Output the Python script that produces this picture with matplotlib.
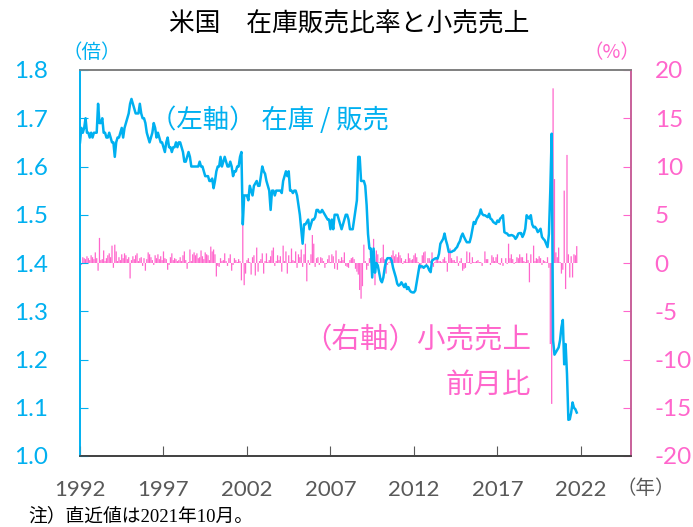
import numpy as np
import matplotlib
matplotlib.use('Agg')
import matplotlib.pyplot as plt

plt.rcParams['axes.unicode_minus'] = False

# 在庫/販売 (倍), monthly, Jan 1992 - Oct 2021
ratio = [
    1.65, 1.68, 1.67, 1.68, 1.70, 1.67, 1.67, 1.66, 1.67, 1.66, 1.67, 1.67,  # 1992
    1.67, 1.73, 1.69, 1.69, 1.70, 1.67, 1.67, 1.66, 1.66, 1.67, 1.66, 1.65,  # 1993
    1.65, 1.62, 1.65, 1.66, 1.66, 1.67, 1.68, 1.66, 1.68, 1.69, 1.70, 1.71,  # 1994
    1.73, 1.74, 1.73, 1.72, 1.71, 1.71, 1.71, 1.73, 1.71, 1.70, 1.70, 1.69,  # 1995
    1.67, 1.66, 1.65, 1.66, 1.67, 1.69, 1.68, 1.66, 1.67, 1.66, 1.65, 1.65,  # 1996
    1.64, 1.63, 1.65, 1.66, 1.64, 1.64, 1.63, 1.64, 1.64, 1.65, 1.64, 1.65,  # 1997
    1.65, 1.64, 1.63, 1.61, 1.61, 1.62, 1.63, 1.62, 1.60, 1.60, 1.60, 1.60,  # 1998
    1.60, 1.60, 1.61, 1.60, 1.60, 1.59, 1.58, 1.58, 1.58, 1.57, 1.57, 1.575,  # 1999
    1.555, 1.57, 1.59, 1.60, 1.60, 1.62, 1.60, 1.61, 1.62, 1.61, 1.60, 1.60,  # 2000
    1.61, 1.60, 1.58, 1.59, 1.59, 1.60, 1.60, 1.62, 1.63, 1.48, 1.54, 1.54,  # 2001
    1.54, 1.53, 1.56, 1.55, 1.54, 1.56, 1.565, 1.57, 1.56, 1.56, 1.58, 1.60,  # 2002
    1.59, 1.585, 1.57, 1.56, 1.55, 1.51, 1.55, 1.55, 1.54, 1.55, 1.55, 1.55,  # 2003
    1.55, 1.545, 1.57, 1.58, 1.59, 1.58, 1.59, 1.55, 1.55, 1.545, 1.55, 1.55,  # 2004
    1.54, 1.52, 1.50, 1.47, 1.44, 1.48, 1.48, 1.485, 1.49, 1.47, 1.48, 1.49,  # 2005
    1.49, 1.495, 1.51, 1.51, 1.505, 1.505, 1.51, 1.505, 1.50, 1.495, 1.49, 1.49,  # 2006
    1.47, 1.49, 1.47, 1.50, 1.50, 1.50, 1.49, 1.48, 1.47, 1.48, 1.49, 1.50,  # 2007
    1.50, 1.49, 1.47, 1.47, 1.47, 1.49, 1.51, 1.53, 1.62, 1.62, 1.57, 1.57,  # 2008
    1.57, 1.56, 1.52, 1.46, 1.43, 1.43, 1.37, 1.43, 1.38, 1.40, 1.395, 1.38,  # 2009
    1.365, 1.36, 1.37, 1.39, 1.405, 1.41, 1.41, 1.41, 1.405, 1.39, 1.38, 1.37,  # 2010
    1.357, 1.353, 1.355, 1.36, 1.355, 1.35, 1.357, 1.346, 1.35, 1.343, 1.34, 1.339,  # 2011
    1.339, 1.343, 1.36, 1.378, 1.395, 1.393, 1.393, 1.39, 1.393, 1.395, 1.392, 1.385,  # 2012
    1.381, 1.405, 1.407, 1.409, 1.41, 1.409, 1.419, 1.44, 1.445, 1.45, 1.461, 1.447,  # 2013
    1.437, 1.423, 1.423, 1.423, 1.425, 1.426, 1.43, 1.433, 1.44, 1.445, 1.455, 1.461,  # 2014
    1.454, 1.448, 1.443, 1.443, 1.443, 1.454, 1.47, 1.485, 1.481, 1.49, 1.495, 1.50,  # 2015
    1.511, 1.502, 1.499, 1.499, 1.497, 1.495, 1.502, 1.492, 1.49, 1.485, 1.483, 1.481,  # 2016
    1.488, 1.485, 1.492, 1.495, 1.499, 1.464, 1.462, 1.461, 1.457, 1.457, 1.458, 1.457,  # 2017
    1.455, 1.45, 1.454, 1.461, 1.462, 1.462, 1.454, 1.46, 1.471, 1.499, 1.495, 1.492,  # 2018
    1.499, 1.48, 1.474, 1.475, 1.471, 1.464, 1.467, 1.471, 1.454, 1.45, 1.447, 1.44,  # 2019
    1.433, 1.46, 1.55, 1.668, 1.24, 1.21, 1.215, 1.22, 1.225, 1.24, 1.267, 1.282,  # 2020
    1.19, 1.232, 1.17, 1.075, 1.076, 1.09, 1.111, 1.10, 1.097, 1.09,  # 2021
]

# 小売売上 前月比 (%)
retail = [
    0.9, -0.2, 0.6, 0.5, 0.4, 0.7, 0.5, 0.3, 0.8, 0.6, 0.4, 1.1,  # 1992
    0.5, -0.8, 2.6, 0.3, 0.4, 1.3, 0.2, 0.5, 0.8, 1.0, 0.6, 1.8,  # 1993
    -0.5, 1.9, 1.2, 0.2, 0.6, 0.3, 0.9, 0.5, 1.0, 0.8, 0.4, 0.6,  # 1994
    -1.6, 0.3, 0.7, 0.4, 0.8, 1.0, 0.2, 0.5, 0.6, -0.3, 0.5, -0.8,  # 1995
    0.4, 1.1, 0.9, 0.6, 0.3, -0.2, 0.8, 0.5, 0.9, 0.4, 0.7, 0.3,  # 1996
    1.2, 0.5, 0.4, -0.7, -0.2, 0.6, 1.0, 0.3, 0.5, 0.4, 0.2, 0.3,  # 1997
    0.6, 0.2, 0.8, 1.2, 0.3, -0.6, 0.1, 1.4, 0.2, 0.9, 1.1, 0.8,  # 1998
    1.0, 0.5, 0.6, 1.3, 0.7, 0.4, 1.1, 0.9, 0.8, 0.3, 1.7, 1.2,  # 1999
    1.4, 0.9, -1.4, -0.3, -0.4, 0.5, 0.2, 0.3, 1.0, 0.2, -0.3, 0.5,  # 2000
    0.9, -0.8, -0.2, 0.5, 0.3, 0.1, 0.4, 0.2, -1.8, 4.1, -2.3, -1.1,  # 2001
    0.3, 0.5, 0.1, -1.2, 0.6, 0.8, -1.3, 1.6, -0.9, 0.2, 0.4, 1.0,  # 2002
    -1.1, 0.2, 1.0, 0.1, 0.3, 0.7, 1.3, 1.6, -0.3, 0.2, 0.8, 0.3,  # 2003
    0.7, -0.9, 1.8, 0.2, 1.2, -1.1, 0.8, 0.1, 1.5, 0.3, 0.2, 1.2,  # 2004
    -0.5, 0.9, 0.6, 1.4, -0.4, 0.9, 2.0, -1.9, 0.3, -0.2, 0.9, 2.9,  # 2005
    2.0, -0.4, 0.5, 0.6, -0.2, 0.6, 0.5, 0.2, -0.5, -0.1, 0.4, 0.8,  # 2006
    0.1, 0.9, 0.7, -0.6, 1.3, -0.7, 0.4, 0.2, 0.6, 0.3, 1.1, -0.3,  # 2007
    -0.4, -0.5, 0.3, 0.5, 0.6, 0.4, -0.6, -0.9, -1.2, -2.8, -3.7, -2.4,  # 2008
    1.9, 0.2, -0.7, -0.3, 0.5, 0.8, 0.3, 2.5, -2.3, 1.3, 0.9, 0.1,  # 2009
    0.5, 0.6, 1.9, 0.4, -1.1, -0.2, 0.1, 0.6, 0.8, 1.3, 0.7, 0.9,  # 2010
    0.6, 1.1, 0.8, 0.5, -0.1, 0.2, 0.4, 0.1, 1.0, 0.5, 0.3, 0.4,  # 2011
    0.8, 1.0, 0.6, 0.1, -0.3, -0.6, 0.8, 1.1, 1.2, -0.3, 0.5, 0.5,  # 2012
    0.2, 1.1, -0.4, 0.1, 0.6, 0.4, 0.2, 0.2, 0.1, 0.4, 0.6, 0.2,  # 2013
    -0.9, 1.2, 1.5, 0.5, 0.3, 0.3, 0.1, 0.7, -0.3, 0.2, 0.5, -0.8,  # 2014
    -0.6, -0.5, 1.2, 0.1, 1.1, -0.1, 0.6, 0.1, 0.1, 0.2, 0.3, 0.1,  # 2015
    0.1, -0.3, 0.0, 1.2, 0.4, 0.4, 0.0, -0.2, 0.8, 0.6, 0.2, 0.6,  # 2016
    0.9, -0.1, -0.2, 0.5, -0.3, 0.0, 0.5, -0.1, 2.0, 0.5, 0.9, 0.4,  # 2017
    -0.1, 0.1, 0.6, 0.5, 0.9, 0.6, 0.6, 0.2, 0.1, 1.0, 0.3, -2.0,  # 2018
    0.9, 0.0, 1.8, 0.2, 0.5, 0.4, 0.7, 0.5, -0.2, 0.3, 0.2, 0.1,  # 2019
    0.6, -0.5, -8.4, -14.6, 18.1, 8.7, 1.1, 0.6, 1.6, 0.1, -1.1, -0.7,  # 2020
    7.5, -2.7, 11.2, 0.9, -1.5, 0.7, -1.5, 0.9, 0.8, 1.75,  # 2021
]

year_ticks = [1992, 1997, 2002, 2007, 2012, 2017, 2022]
left_ticks = [1.0, 1.1, 1.2, 1.3, 1.4, 1.5, 1.6, 1.7, 1.8]
right_ticks = [-20, -15, -10, -5, 0, 5, 10, 15, 20]

BLUE = '#00B0F0'
PINK = '#FF66CC'
GRAY = '#595959'
JP = ['Noto Sans CJK JP']
NUM = ['Lato', 'DejaVu Sans']

t = 1992 + np.arange(len(ratio)) / 12.0

W, H = 693, 527
fig = plt.figure(figsize=(W / 100, H / 100), dpi=100)
ax = fig.add_axes([80 / W, 1 - 456 / H, 551 / W, 386 / H])
ax2 = ax.twinx()

# bars behind the line
ax.set_zorder(2)
ax.patch.set_visible(False)
ax2.set_zorder(1)
ax2.bar(t, retail, width=0.9 / 12, color=PINK, linewidth=0, snap=False)
ax.plot(t, ratio, color=BLUE, lw=1.8)

ax.set_xlim(1992, 2025)
ax.set_ylim(1.0, 1.8)
ax2.set_ylim(-20, 20)

ax.set_xticks(year_ticks)
ax.set_xticklabels([str(y) for y in year_ticks], family=NUM, fontsize=16, color=GRAY)
ax.set_yticks(left_ticks)
ax.set_yticklabels([f'{v:.1f}' for v in left_ticks], family=NUM, fontsize=17.5, color=BLUE)
ax2.set_yticks(right_ticks)
ax2.set_yticklabels([str(v) for v in right_ticks], family=NUM, fontsize=17.5, color=PINK)

ax.tick_params(axis='x', direction='in', length=7, color=GRAY, pad=17)
ax.tick_params(axis='y', direction='in', length=6, color=BLUE, pad=23)
ax2.tick_params(axis='y', direction='in', length=6, color=PINK, pad=17)

for a in (ax, ax2):
    a.spines['left'].set_color(BLUE)
    a.spines['right'].set_color('#C8609A')
    a.spines['top'].set_color('#7F7F7F')
    a.spines['bottom'].set_color('#404040')
    for s in a.spines.values():
        s.set_linewidth(1.2)

def fx(x):
    return x / W

def fy(y):
    return 1 - y / H

fig.text(fx(349), fy(24), '米国　在庫販売比率と小売売上', family=JP, fontsize=18.5,
         ha='center', va='center', color='black')
fig.text(fx(92), fy(53), '（倍）', family=JP, fontsize=14, ha='center', va='center', color=BLUE)
fig.text(fx(612), fy(53), '（%）', family=JP, fontsize=14, ha='center', va='center', color=PINK)
fig.text(fx(150), fy(120), '（左軸） 在庫 / 販売', family=JP, fontsize=19,
         ha='left', va='center', color=BLUE)
fig.text(fx(531), fy(340), '（右軸）小売売上', family=JP, fontsize=20.5,
         ha='right', va='center', color=PINK)
fig.text(fx(531), fy(385), '前月比', family=JP, fontsize=20.5,
         ha='right', va='center', color=PINK)
fig.text(fx(646), fy(489), '（年）', family=JP, fontsize=14, ha='center', va='center', color=GRAY)
fig.text(fx(28), fy(516), '注）直近値は2021年10月。', family=['Liberation Serif', 'Noto Sans CJK JP'],
         fontsize=13.5, ha='left', va='center', color='black')

fig.savefig('out.png', dpi=100)
